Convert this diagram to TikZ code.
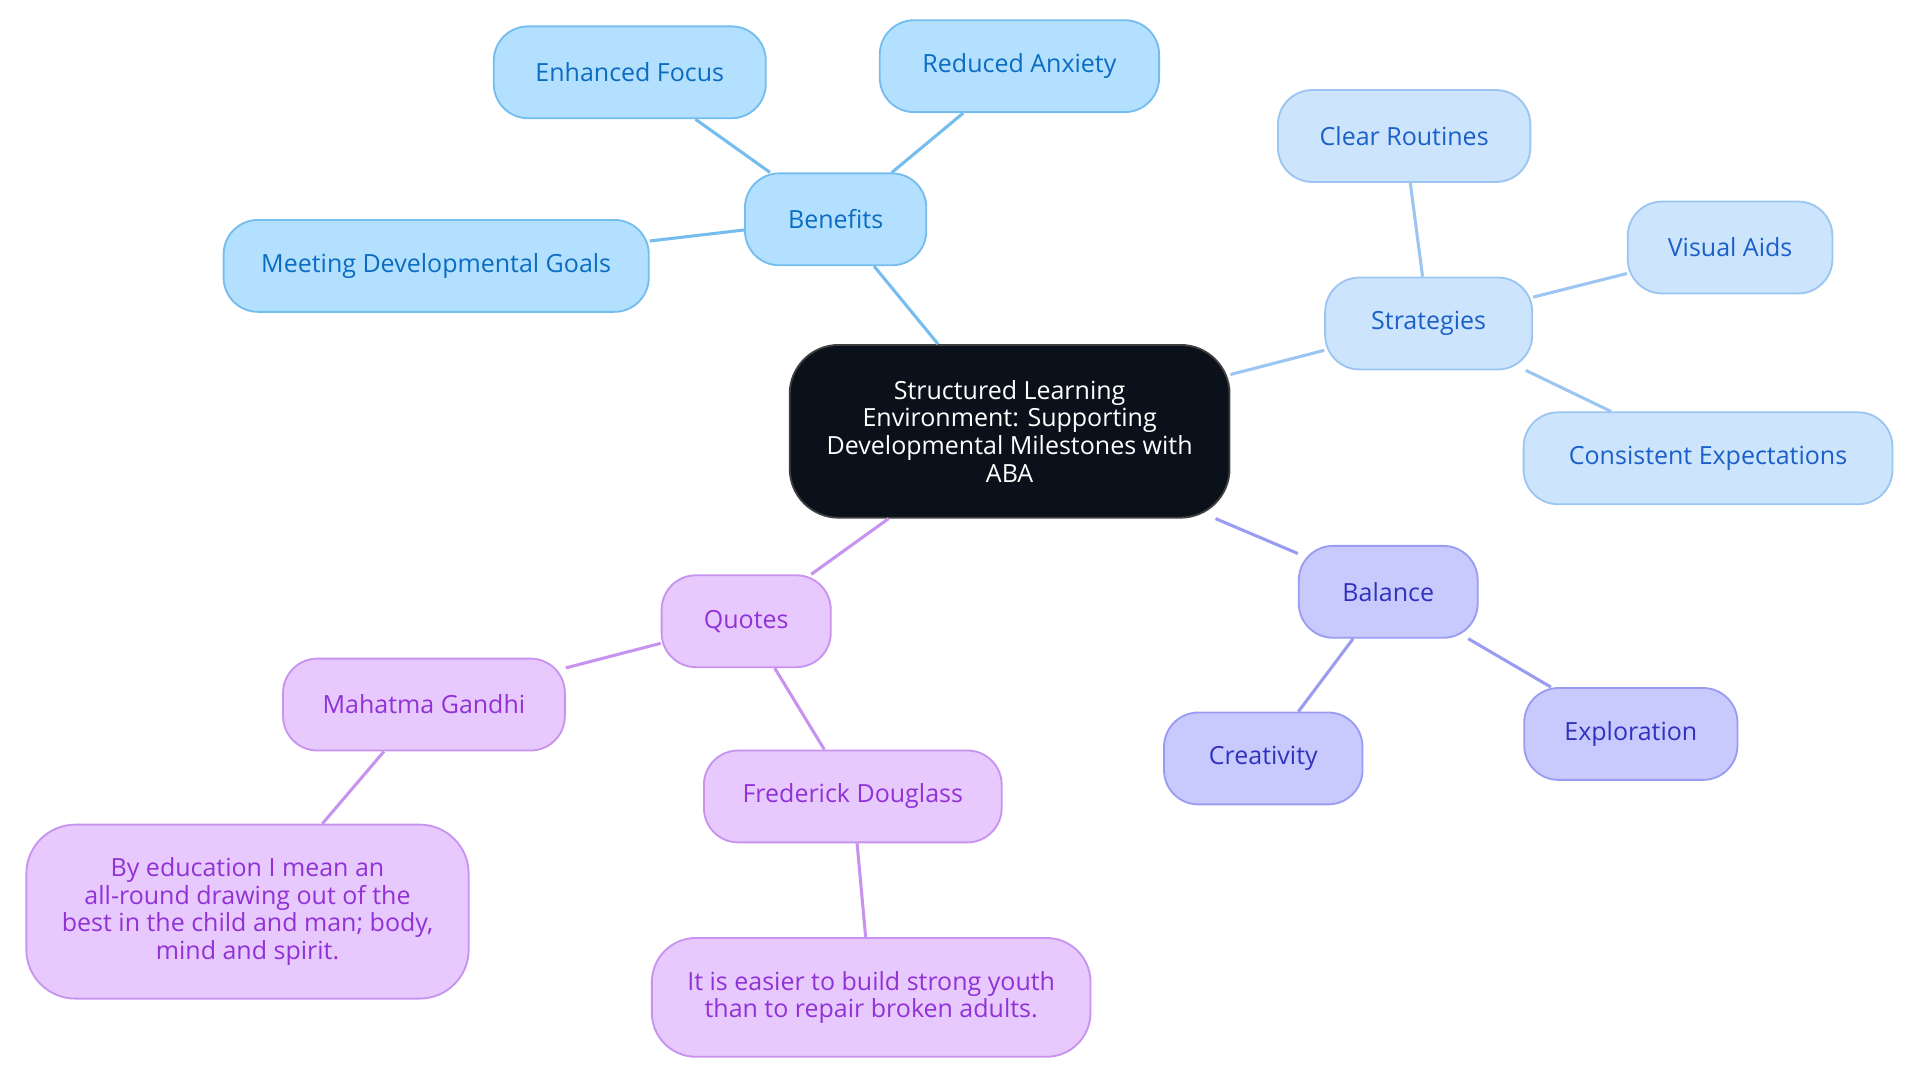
\documentclass[tikz,border=0pt]{standalone}
\usepackage{fontspec}
\setmainfont{Open Sans}
\usepackage{tikz}
\usetikzlibrary{shapes,positioning}
\definecolor{benfill}{HTML}{B3E0FF}
\definecolor{benline}{HTML}{74BDEE}
\definecolor{bentext}{HTML}{0B6CC2}
\definecolor{strfill}{HTML}{CCE4FC}
\definecolor{strline}{HTML}{9CC5F1}
\definecolor{strtext}{HTML}{1A60C8}
\definecolor{balfill}{HTML}{C8CAFE}
\definecolor{balline}{HTML}{999CF1}
\definecolor{baltext}{HTML}{3032BE}
\definecolor{quofill}{HTML}{E8C9FD}
\definecolor{quoline}{HTML}{C893EF}
\definecolor{quotext}{HTML}{9032D6}
\definecolor{rootfill}{HTML}{0B111B}

\begin{document}
\begin{tikzpicture}[x=0.5pt,y=-0.5pt,
 mapnode/.style={draw,rounded corners=14pt,minimum height=37.5pt,inner sep=0pt,line width=0.75pt,align=center,font=\fontsize{10.2}{11.3}\selectfont},
 benbox/.style={mapnode,fill=benfill,draw=benline,text=bentext},
 strbox/.style={mapnode,fill=strfill,draw=strline,text=strtext},
 balbox/.style={mapnode,fill=balfill,draw=balline,text=baltext},
 quobox/.style={mapnode,fill=quofill,draw=quoline,text=quotext},
 link/.style={line width=1.25pt}]
 \useasboundingbox (0,0) rectangle (1567,884);
 % root
 \node[mapnode,fill=rootfill,draw=black!75,text=white,minimum width=179.5pt,minimum height=70.5pt,rounded corners=20pt] (root) at (824,352) {Structured Learning\\Environment: Supporting\\Developmental Milestones with\\ABA};
 % benefits
 \node[benbox,minimum width=74pt] (benefits) at (682,179) {Benefits};
 \node[benbox,minimum width=111pt] (focus) at (514,59) {Enhanced Focus};
 \node[benbox,minimum width=114pt] (anxiety) at (832,54) {Reduced Anxiety};
 \node[benbox,minimum width=173.5pt] (goals) at (356,217) {Meeting Developmental Goals};
 % strategies
 \node[strbox,minimum width=84.5pt] (strategies) at (1166,264) {Strategies};
 \node[strbox,minimum width=103pt] (routines) at (1146,111) {Clear Routines};
 \node[strbox,minimum width=83.5pt] (aids) at (1412,202) {Visual Aids};
 \node[strbox,minimum width=150.5pt] (expect) at (1394,374) {Consistent Expectations};
 % balance
 \node[balbox,minimum width=73pt] (balance) at (1133,483) {Balance};
 \node[balbox,minimum width=81pt] (creativity) at (1031,619) {Creativity};
 \node[balbox,minimum width=87pt] (explore) at (1331,599) {Exploration};
 % quotes
 \node[quobox,minimum width=69pt] (quotes) at (609,507) {Quotes};
 \node[quobox,minimum width=115pt] (gandhi) at (346,575) {Mahatma Gandhi};
 \node[quobox,minimum width=121.5pt] (douglass) at (696,650) {Frederick Douglass};
 \node[quobox,minimum width=180.5pt,minimum height=71pt,rounded corners=20pt] (gandhiq) at (202,744) {By education I mean an\\all-round drawing out of the\\best in the child and man; body,\\mind and spirit.};
 \node[quobox,minimum width=179pt,minimum height=48.5pt,rounded corners=18pt] (douglassq) at (711,814) {It is easier to build strong youth\\than to repair broken adults.};
 % links
 \draw[link,benline] (root) -- (benefits);
 \draw[link,benline] (benefits) -- (focus);
 \draw[link,benline] (benefits) -- (anxiety);
 \draw[link,benline] (benefits) -- (goals);
 \draw[link,strline] (root) -- (strategies);
 \draw[link,strline] (strategies) -- (routines);
 \draw[link,strline] (strategies) -- (aids);
 \draw[link,strline] (strategies) -- (expect);
 \draw[link,balline] (root) -- (balance);
 \draw[link,balline] (balance) -- (creativity);
 \draw[link,balline] (balance) -- (explore);
 \draw[link,quoline] (root) -- (quotes);
 \draw[link,quoline] (quotes) -- (gandhi);
 \draw[link,quoline] (quotes) -- (douglass);
 \draw[link,quoline] (gandhi) -- (gandhiq);
 \draw[link,quoline] (douglass) -- (douglassq);
\end{tikzpicture}
\end{document}
